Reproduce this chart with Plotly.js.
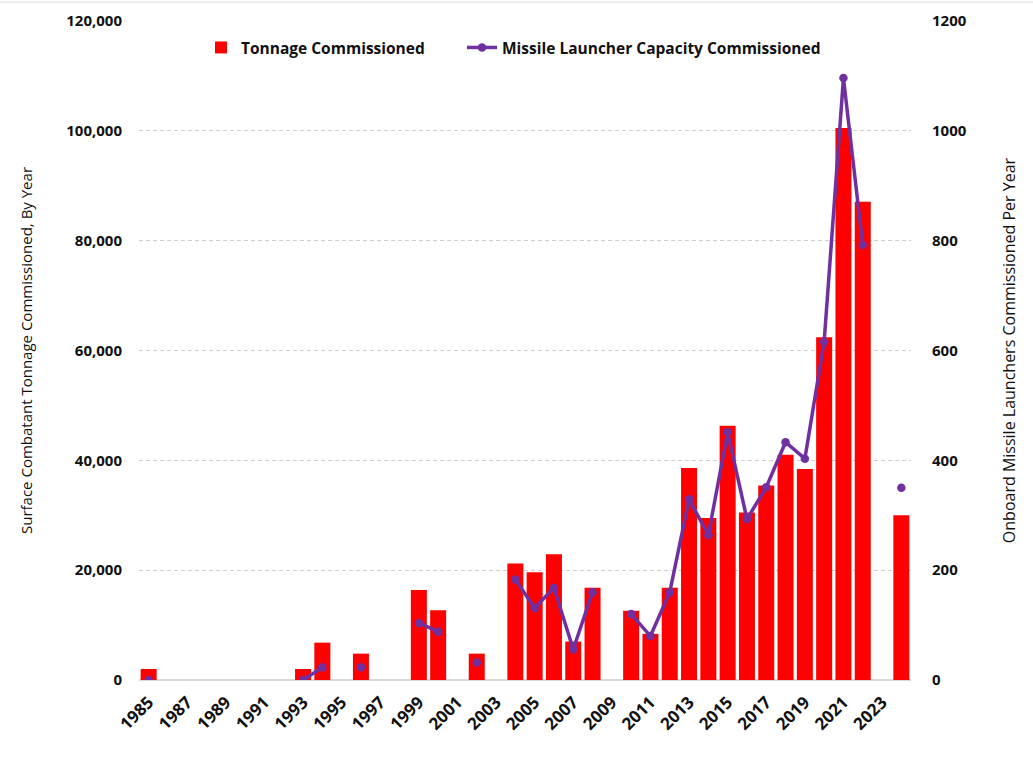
<!DOCTYPE html>
<html>
<head>
<meta charset="utf-8">
<script src="https://cdn.plot.ly/plotly-3.0.1.min.js"></script>
<style>html,body{margin:0;padding:0;background:#fff;}#chart{width:1033px;height:761px;}</style>
</head>
<body>
<div id="chart"></div>
<script>
const years = ["1985","1986","1987","1988","1989","1990","1991","1992","1993","1994","1995","1996","1997","1998","1999","2000","2001","2002","2003","2004","2005","2006","2007","2008","2009","2010","2011","2012","2013","2014","2015","2016","2017","2018","2019","2020","2021","2022","2023","2024"];
const tonnage = [2000,null,null,null,null,null,null,null,2000,6800,null,4800,null,null,16400,12700,null,4800,null,21200,19600,22900,7000,16800,null,12600,8400,16800,38600,29500,46300,30500,35400,41000,38400,62400,100500,87100,null,30000];
const launchers = [0,null,null,null,null,null,null,null,0,23,null,23,null,null,104,88,null,32,null,183,131,168,56,160,null,120,80,160,329,264,451,293,351,433,403,616,1096,792,null,350];
const tickLabels = ["1985","1987","1989","1991","1993","1995","1997","1999","2001","2003","2005","2007","2009","2011","2013","2015","2017","2019","2021","2023"];

const font = "Open Sans, Liberation Sans, sans-serif";
const data = [
  {type:"bar", x:years, y:tonnage, name:"Tonnage Commissioned", marker:{color:"#ff0000"}, yaxis:"y", legend:"legend"},
  {type:"scatter", mode:"lines+markers", x:years, y:launchers, name:"Missile Launcher Capacity Commissioned",
   line:{color:"#7030a0", width:3.5}, marker:{color:"#7030a0", size:8.5}, connectgaps:false, yaxis:"y2", legend:"legend2"}
];
const legFont = {size:15.5, family:font, weight:"bold", color:"#111"};
const layout = {
  width:1033, height:761,
  margin:{l:139, r:122, t:21, b:81},
  paper_bgcolor:"#fff", plot_bgcolor:"#fff",
  font:{family:font, color:"#111"},
  bargap:0.17,
  showlegend:true,
  legend:{orientation:"h", x:0.0803, xanchor:"left", y:0.985, yanchor:"top", font:legFont, bgcolor:"rgba(0,0,0,0)"},
  legend2:{orientation:"h", x:0.4184, xanchor:"left", y:0.985, yanchor:"top", font:legFont, bgcolor:"rgba(0,0,0,0)"},
  xaxis:{type:"category", range:[-0.5,39.5], tickvals:tickLabels, ticktext:tickLabels, tickangle:-45, tickfont:{size:17, weight:"bold"},
         showgrid:false, showline:false, zeroline:false, ticks:"", automargin:false, ticklabelstandoff:8},
  yaxis:{range:[0,120000], dtick:20000, tickformat:",", tickfont:{size:15, weight:"bold"},
         showgrid:true, gridcolor:"#cfcfcf", griddash:"4px,3px", gridwidth:1, zeroline:true, zerolinecolor:"#d9d9d9", zerolinewidth:2,
         showline:false, ticks:"", ticklabelstandoff:16, automargin:false,
         title:{text:"Surface Combatant Tonnage Commissioned, By Year", font:{size:15}, standoff:30}},
  yaxis2:{range:[0,1200], dtick:200, tickformat:"d", overlaying:"y", side:"right", tickfont:{size:15, weight:"bold"},
          showgrid:false, zeroline:false, showline:false, ticks:"", ticklabelstandoff:20, automargin:false,
          title:{text:"Onboard Missile Launchers Commissioned Per Year", font:{size:16}, standoff:38}},
  shapes:[{type:"line", xref:"paper", yref:"paper", x0:-0.2, x1:1.2, y0:1.0288, y1:1.0288, line:{color:"#d9d9d9", width:1}}]
};
Plotly.newPlot("chart", data, layout, {displayModeBar:false, staticPlot:true});
</script>
</body>
</html>
